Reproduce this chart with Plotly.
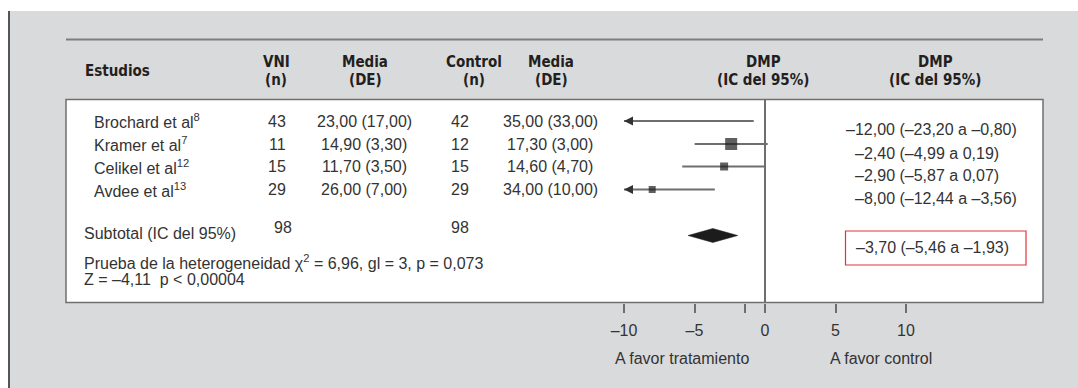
import plotly.graph_objects as go

# ---- data -------------------------------------------------------------
STUDIES = ["Brochard et al", "Kramer et al", "Celikel et al", "Avdee et al"]
REFS = ["8", "7", "12", "13"]
VNI_N = [43, 11, 15, 29]
VNI_MEAN = [23.00, 14.90, 11.70, 26.00]
VNI_SD = [17.00, 3.30, 3.50, 7.00]
CTRL_N = [42, 12, 15, 29]
CTRL_MEAN = [35.00, 17.30, 14.60, 34.00]
CTRL_SD = [33.00, 3.00, 4.70, 10.00]
DMP = [-12.00, -2.40, -2.90, -8.00]
DMP_LO = [-23.20, -4.99, -5.87, -12.44]
DMP_HI = [-0.80, 0.19, 0.07, -3.56]

SUBTOTAL_VNI_N = 98
SUBTOTAL_CTRL_N = 98
POOLED = -3.70
POOLED_LO = -5.46
POOLED_HI = -1.93
CHI2 = 6.96
GL = 3
P_HET = "0,073"
Z = -4.11
P_Z = "0,00004"

TICK_VALUES = [-10, -5, -1.4, 0, 5, 10]
TICK_TEXT = ["–10", "–5", "", "0", "5", "10"]
PLOT_MIN = -10          # CIs beyond this are drawn as arrows

# ---- layout geometry (pixels) ----------------------------------------
W, H = 1078, 388
ZERO_PX = 765           # x pixel of DMP = 0
UNIT_PX = 14.1          # pixels per DMP unit
AXIS_PX = 302.5         # y pixel of the table bottom / axis
ROW_Y = [121, 144, 166.5, 189.5]
RESULT_Y = [130, 153.3, 176, 199]
SUB_Y = 235.5
SQUARE_SIZE = [0, 12, 8, 7]

TXT = "#333333"
HEAD = "#231f20"
BODY_FONT = "Liberation Sans, Arial, sans-serif"
HEAD_FONT = "DejaVu Sans Condensed, Liberation Sans Narrow, Arial Narrow, sans-serif"


def fmt(v, d=2):
    s = f"{abs(v):.{d}f}".replace(".", ",")
    return ("–" if v < 0 else "") + s


def pxx(x):
    return x / W


def pxy(y):
    return 1 - y / H


fig = go.Figure()

# confidence interval lines (clipped to the plotted range)
lx, ly = [], []
for lo, hi, y in zip(DMP_LO, DMP_HI, ROW_Y):
    lx += [max(lo, PLOT_MIN), hi, None]
    ly += [y, y, None]
fig.add_trace(go.Scatter(x=lx, y=ly, mode="lines",
                         line=dict(color="#6e6e6e", width=2),
                         hoverinfo="skip", showlegend=False))

# arrows for intervals extending past the left edge
ax_ = [PLOT_MIN for lo in DMP_LO if lo < PLOT_MIN]
ay_ = [y for lo, y in zip(DMP_LO, ROW_Y) if lo < PLOT_MIN]
fig.add_trace(go.Scatter(x=ax_, y=ay_, mode="markers",
                         marker=dict(symbol="arrow-left", size=9, color="#333333",
                                     line=dict(width=0)),
                         hoverinfo="skip", showlegend=False))

# point estimates
sx = [d for d in DMP if d >= PLOT_MIN]
sy = [y for d, y in zip(DMP, ROW_Y) if d >= PLOT_MIN]
ss = [s for d, s in zip(DMP, SQUARE_SIZE) if d >= PLOT_MIN]
fig.add_trace(go.Scatter(x=sx, y=sy, mode="markers",
                         marker=dict(symbol="square", size=ss, color="#1c1c1c",
                                     line=dict(width=0)),
                         hoverinfo="skip", showlegend=False))

# pooled diamond
HALF_H = 7
fig.add_trace(go.Scatter(
    x=[POOLED_LO, POOLED, POOLED_HI, POOLED, POOLED_LO],
    y=[SUB_Y, SUB_Y - HALF_H, SUB_Y, SUB_Y + HALF_H, SUB_Y],
    mode="lines", fill="toself", fillcolor="#1c1c1c",
    line=dict(color="#1c1c1c", width=0.5),
    hoverinfo="skip", showlegend=False))

shapes = [
    # grey panel and its left rule
    dict(type="rect", xref="paper", yref="paper", x0=pxx(9), x1=1, y0=0, y1=pxy(11),
         fillcolor="#d9dadc", line=dict(width=0), layer="below"),
    dict(type="line", xref="paper", yref="paper", x0=pxx(9), x1=pxx(9), y0=0, y1=pxy(11),
         line=dict(color="#555555", width=2), layer="below"),
    # header rule
    dict(type="line", xref="paper", yref="paper", x0=pxx(66), x1=pxx(1043),
         y0=pxy(39.5), y1=pxy(39.5), line=dict(color="#7d7d7d", width=2), layer="below"),
    # white table body
    dict(type="rect", xref="paper", yref="paper", x0=pxx(66), x1=pxx(1043),
         y0=pxy(AXIS_PX), y1=pxy(99.5), fillcolor="white",
         line=dict(color="#6f6f6f", width=1.5), layer="below"),
    # line of no effect
    dict(type="line", xref="x", yref="y", x0=0, x1=0, y0=99.5, y1=AXIS_PX,
         line=dict(color="#6e6e6e", width=2), layer="below"),
    # highlight around the pooled result
    dict(type="rect", xref="paper", yref="paper", x0=pxx(845.5), x1=pxx(1026),
         y0=pxy(265), y1=pxy(231), line=dict(color="#e2323c", width=1.2),
         fillcolor="rgba(0,0,0,0)"),
]

ann = []


def text(x, y, s, anchor="left", size=16, color=TXT, family=BODY_FONT, weight="normal"):
    ann.append(dict(x=pxx(x), y=pxy(y), xref="paper", yref="paper", text=s,
                    showarrow=False, xanchor=anchor, yanchor="middle",
                    font=dict(size=size, color=color, family=family, weight=weight)))


# header
hs = 15
text(83, 71, "Estudios", size=hs, color=HEAD, family=HEAD_FONT, weight="bold")
for cx, l1, l2 in [(276, "VNI", "(n)"), (365, "Media", "(DE)"), (474, "Control", "(n)"),
                   (551, "Media", "(DE)"), (763, "DMP", "(IC del 95%)"),
                   (935, "DMP", "(IC del 95%)")]:
    text(cx, 61.5, l1, anchor="center", size=hs, color=HEAD, family=HEAD_FONT, weight="bold")
    text(cx, 80, l2, anchor="center", size=hs, color=HEAD, family=HEAD_FONT, weight="bold")

# study rows
for i, name in enumerate(STUDIES):
    y = ROW_Y[i]
    text(92, y, f"{name}<sup>{REFS[i]}</sup>")
    text(277, y, str(VNI_N[i]), anchor="center")
    text(364, y, f"{fmt(VNI_MEAN[i])} ({fmt(VNI_SD[i])})", anchor="center")
    text(460, y, str(CTRL_N[i]), anchor="center")
    text(550, y, f"{fmt(CTRL_MEAN[i])} ({fmt(CTRL_SD[i])})", anchor="center")
    # results column aligned on the decimal comma
    digits = len(str(int(abs(DMP[i]))))
    text(853 - 9 * (digits - 1), RESULT_Y[i],
         f"{fmt(DMP[i])} ({fmt(DMP_LO[i])} a {fmt(DMP_HI[i])})")

# subtotal
text(82, 233, "Subtotal (IC del 95%)")
text(283, 227.3, str(SUBTOTAL_VNI_N), anchor="center")
text(460, 227.3, str(SUBTOTAL_CTRL_N), anchor="center")
text(854, 247.5, f"{fmt(POOLED)} ({fmt(POOLED_LO)} a {fmt(POOLED_HI)})")
text(82, 261.5, f"Prueba de la heterogeneidad χ<sup>2</sup> = {fmt(CHI2)}, gl = {GL}, p = {P_HET}")
text(82, 279, f"Z = {fmt(Z)}\u00a0\u00a0p < {P_Z}")

# axis captions
text(681.5, 358, "A favor tratamiento", anchor="center")
text(881, 358, "A favor control", anchor="center")

fig.update_layout(
    width=W, height=H, margin=dict(l=0, r=0, t=0, b=0),
    paper_bgcolor="white", plot_bgcolor="rgba(0,0,0,0)",
    shapes=shapes, annotations=ann,
    xaxis=dict(domain=[0, 1], range=[-ZERO_PX / UNIT_PX, (W - ZERO_PX) / UNIT_PX],
               tickmode="array", tickvals=TICK_VALUES, ticktext=TICK_TEXT,
               ticks="outside", ticklen=9, tickwidth=2, tickcolor="#6e6e6e",
               showline=False, showgrid=False, zeroline=False,
               tickfont=dict(size=16, color=TXT, family=BODY_FONT),
               ticklabelstandoff=4, fixedrange=True),
    yaxis=dict(domain=[1 - AXIS_PX / H, 1], range=[AXIS_PX, 0], visible=False,
               fixedrange=True),
)

fig.write_html("out.html")
